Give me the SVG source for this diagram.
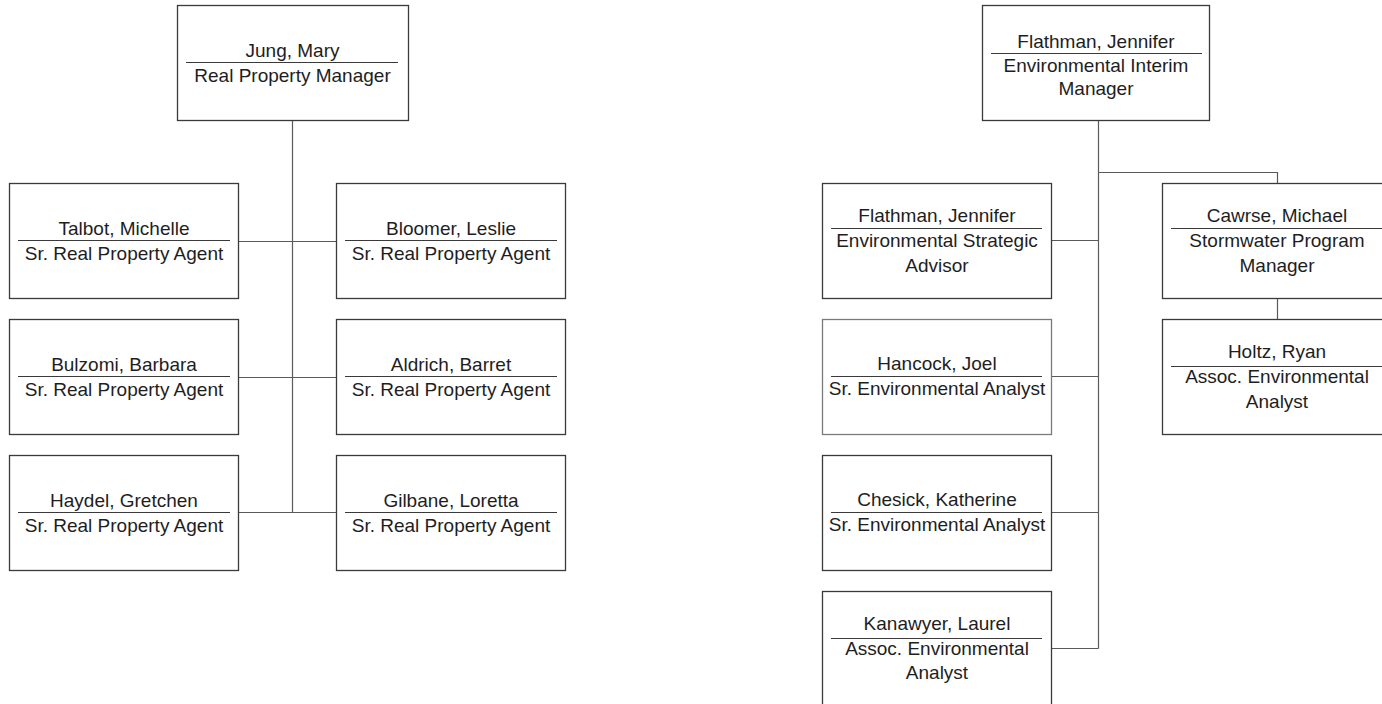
<svg xmlns="http://www.w3.org/2000/svg" width="1382" height="704" viewBox="0 0 1382 704">
<style>
.box{fill:#fff;stroke:#3a3a3a;stroke-width:1.3}
.lite{stroke:#7a7a7a}
.div{stroke:#3a3a3a;stroke-width:1.2}
.conn{fill:none;stroke:#5a5a5a;stroke-width:1.2}
text{font-family:"Liberation Sans",Arial,sans-serif;font-size:19px;fill:#1e1e1e;text-anchor:middle}
</style>
<rect width="1382" height="704" fill="#fff"/>
<g id="connectors">
<path class="conn" d="M292.5 121V512.5M238 241.5H336M238 377.5H336M238 512.5H336"/>
<path class="conn" d="M1098.5 120V648.5M1098.5 172.5H1277.5V183M1052 240.5H1098.5M1052 376.5H1098.5M1052 512.5H1098.5M1052 648.5H1098.5M1277.5 298V319"/>
</g>
<g id="jung">
<rect class="box" x="177.5" y="5.5" width="231" height="115"/>
<text x="292.5" y="57">Jung, Mary</text>
<line class="div" x1="186" y1="62.5" x2="398" y2="62.5"/>
<text x="292.5" y="82">Real Property Manager</text>
</g>
<g id="talbot">
<rect class="box" x="9.5" y="183.5" width="229" height="115"/>
<text x="124" y="235">Talbot, Michelle</text>
<line class="div" x1="18" y1="240.5" x2="230" y2="240.5"/>
<text x="124" y="260">Sr. Real Property Agent</text>
</g>
<g id="bloomer">
<rect class="box" x="336.5" y="183.5" width="229" height="115"/>
<text x="451" y="235">Bloomer, Leslie</text>
<line class="div" x1="345" y1="240.5" x2="557" y2="240.5"/>
<text x="451" y="260">Sr. Real Property Agent</text>
</g>
<g id="bulzomi">
<rect class="box" x="9.5" y="319.5" width="229" height="115"/>
<text x="124" y="371">Bulzomi, Barbara</text>
<line class="div" x1="18" y1="376.5" x2="230" y2="376.5"/>
<text x="124" y="396">Sr. Real Property Agent</text>
</g>
<g id="aldrich">
<rect class="box" x="336.5" y="319.5" width="229" height="115"/>
<text x="451" y="371">Aldrich, Barret</text>
<line class="div" x1="345" y1="376.5" x2="557" y2="376.5"/>
<text x="451" y="396">Sr. Real Property Agent</text>
</g>
<g id="haydel">
<rect class="box" x="9.5" y="455.5" width="229" height="115"/>
<text x="124" y="507">Haydel, Gretchen</text>
<line class="div" x1="18" y1="512.5" x2="230" y2="512.5"/>
<text x="124" y="532">Sr. Real Property Agent</text>
</g>
<g id="gilbane">
<rect class="box" x="336.5" y="455.5" width="229" height="115"/>
<text x="451" y="507">Gilbane, Loretta</text>
<line class="div" x1="345" y1="512.5" x2="557" y2="512.5"/>
<text x="451" y="532">Sr. Real Property Agent</text>
</g>
<g id="flathman-mgr">
<rect class="box" x="982.5" y="5.5" width="227" height="115"/>
<text x="1096" y="48">Flathman, Jennifer</text>
<line class="div" x1="991" y1="53.5" x2="1202" y2="53.5"/>
<text x="1096" y="72">Environmental Interim</text>
<text x="1096" y="95">Manager</text>
</g>
<g id="flathman-adv">
<rect class="box" x="822.5" y="183.5" width="229" height="115"/>
<text x="937" y="222">Flathman, Jennifer</text>
<line class="div" x1="831" y1="228.5" x2="1042" y2="228.5"/>
<text x="937" y="247">Environmental Strategic</text>
<text x="937" y="272">Advisor</text>
</g>
<g id="hancock">
<rect class="box lite" x="822.5" y="319.5" width="229" height="115"/>
<text x="937" y="370">Hancock, Joel</text>
<line class="div" x1="831" y1="376.5" x2="1042" y2="376.5"/>
<text x="937" y="395">Sr. Environmental Analyst</text>
</g>
<g id="chesick">
<rect class="box" x="822.5" y="455.5" width="229" height="115"/>
<text x="937" y="506">Chesick, Katherine</text>
<line class="div" x1="831" y1="512.5" x2="1042" y2="512.5"/>
<text x="937" y="531">Sr. Environmental Analyst</text>
</g>
<g id="kanawyer">
<rect class="box" x="822.5" y="591.5" width="229" height="115"/>
<text x="937" y="630">Kanawyer, Laurel</text>
<line class="div" x1="831" y1="638.5" x2="1042" y2="638.5"/>
<text x="937" y="655">Assoc. Environmental</text>
<text x="937" y="679">Analyst</text>
</g>
<g id="cawrse">
<rect class="box" x="1162.5" y="183.5" width="229" height="115"/>
<text x="1277" y="222">Cawrse, Michael</text>
<line class="div" x1="1171" y1="228.5" x2="1382" y2="228.5"/>
<text x="1277" y="247">Stormwater Program</text>
<text x="1277" y="272">Manager</text>
</g>
<g id="holtz">
<rect class="box" x="1162.5" y="319.5" width="229" height="115"/>
<text x="1277" y="358">Holtz, Ryan</text>
<line class="div" x1="1171" y1="366.5" x2="1382" y2="366.5"/>
<text x="1277" y="383">Assoc. Environmental</text>
<text x="1277" y="408">Analyst</text>
</g>
</svg>
